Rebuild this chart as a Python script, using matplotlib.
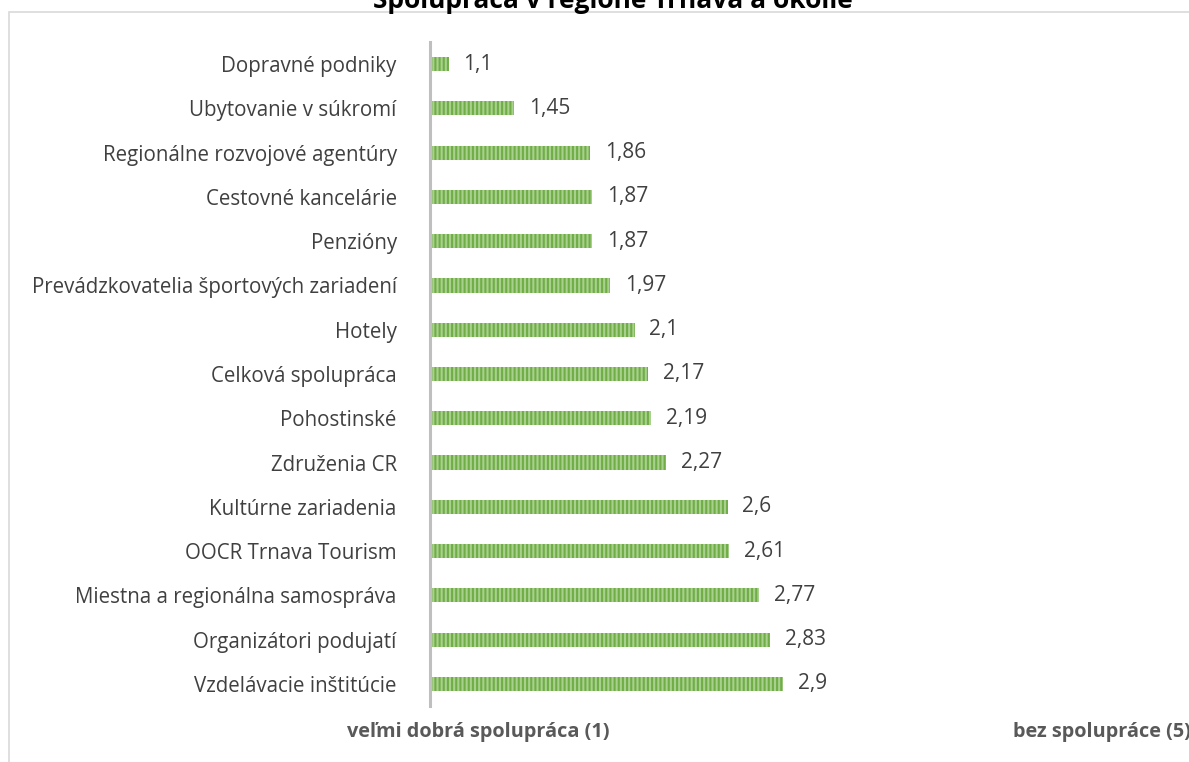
import matplotlib

matplotlib.use("Agg")
import matplotlib.pyplot as plt
from matplotlib.patches import Rectangle
from matplotlib.transforms import blended_transform_factory

# Priemerné hodnotenie spolupráce (1 = veľmi dobrá, 5 = bez spolupráce)
categories = [
    "Dopravné podniky",
    "Ubytovanie v súkromí",
    "Regionálne rozvojové agentúry",
    "Cestovné kancelárie",
    "Penzióny",
    "Prevádzkovatelia športových zariadení",
    "Hotely",
    "Celková spolupráca",
    "Pohostinské",
    "Združenia CR",
    "Kultúrne zariadenia",
    "OOCR Trnava Tourism",
    "Miestna a regionálna samospráva",
    "Organizátori podujatí",
    "Vzdelávacie inštitúcie",
]
values = [1.1, 1.45, 1.86, 1.87, 1.87, 1.97, 2.1, 2.17, 2.19, 2.27, 2.6, 2.61, 2.77, 2.83, 2.9]
scale_min, scale_max = 1, 5
scale_labels = ["veľmi dobrá spolupráca (1)", "bez spolupráce (5)"]
title = "Spolupráca v regióne Trnava a okolie"

DARK_GREEN = "#70ad47"
LIGHT_GREEN = "#a9d18e"
TEXT = "#404040"

plt.rcParams["font.family"] = ["Open Sans", "DejaVu Sans"]
plt.rcParams["hatch.linewidth"] = 1.5

W, H = 1189, 762
fig = plt.figure(figsize=(W / 100, H / 100), dpi=100)
ax = fig.add_axes([430 / W, 56 / H, (1174 - 430) / W, 664 / H])

ypos = list(range(len(categories)))
ax.barh(
    ypos,
    [v - scale_min for v in values],
    left=scale_min,
    height=0.32,
    color=LIGHT_GREEN,
    edgecolor=DARK_GREEN,
    linewidth=0,
    hatch="||||",
)

for y, v in zip(ypos, values):
    ax.text(v + 0.08, y, f"{v:g}".replace(".", ","), va="center", ha="left",
            fontsize=15, color=TEXT)

ax.set_xlim(scale_min, scale_max)
ax.set_ylim(len(categories) - 0.5, -0.5)
ax.set_yticks(ypos)
ax.set_yticklabels(categories, fontsize=14.8, color=TEXT)
ax.tick_params(axis="y", length=0, pad=24)
ax.set_xticks([])

for name, spine in ax.spines.items():
    spine.set_visible(name == "left")
ax.spines["left"].set_color("#bfbfbf")
ax.spines["left"].set_linewidth(2.2)

# popisy krajných bodov škály pod osou
trans = blended_transform_factory(ax.transData, ax.transAxes)
ax.text(1.258, -26 / 664, scale_labels[0], transform=trans,
        ha="center", va="center", fontsize=14.3, fontweight="bold",
        color="#595959", clip_on=False)
ax.text(4.134, -26 / 664, scale_labels[1], transform=trans,
        ha="left", va="center", fontsize=14.3, fontweight="bold",
        color="#595959", clip_on=False)

fig.text(613 / W, (H - 8) / H, title, ha="center", va="baseline",
         fontsize=19, fontweight="bold", color="#000000")

fig.patches.append(Rectangle((9 / W, -0.2), 1.2, (H - 12) / H + 0.2,
                             transform=fig.transFigure, fill=False,
                             edgecolor="#d9d9d9", linewidth=1.2))

fig.savefig("out.png", dpi=100, facecolor="white")
